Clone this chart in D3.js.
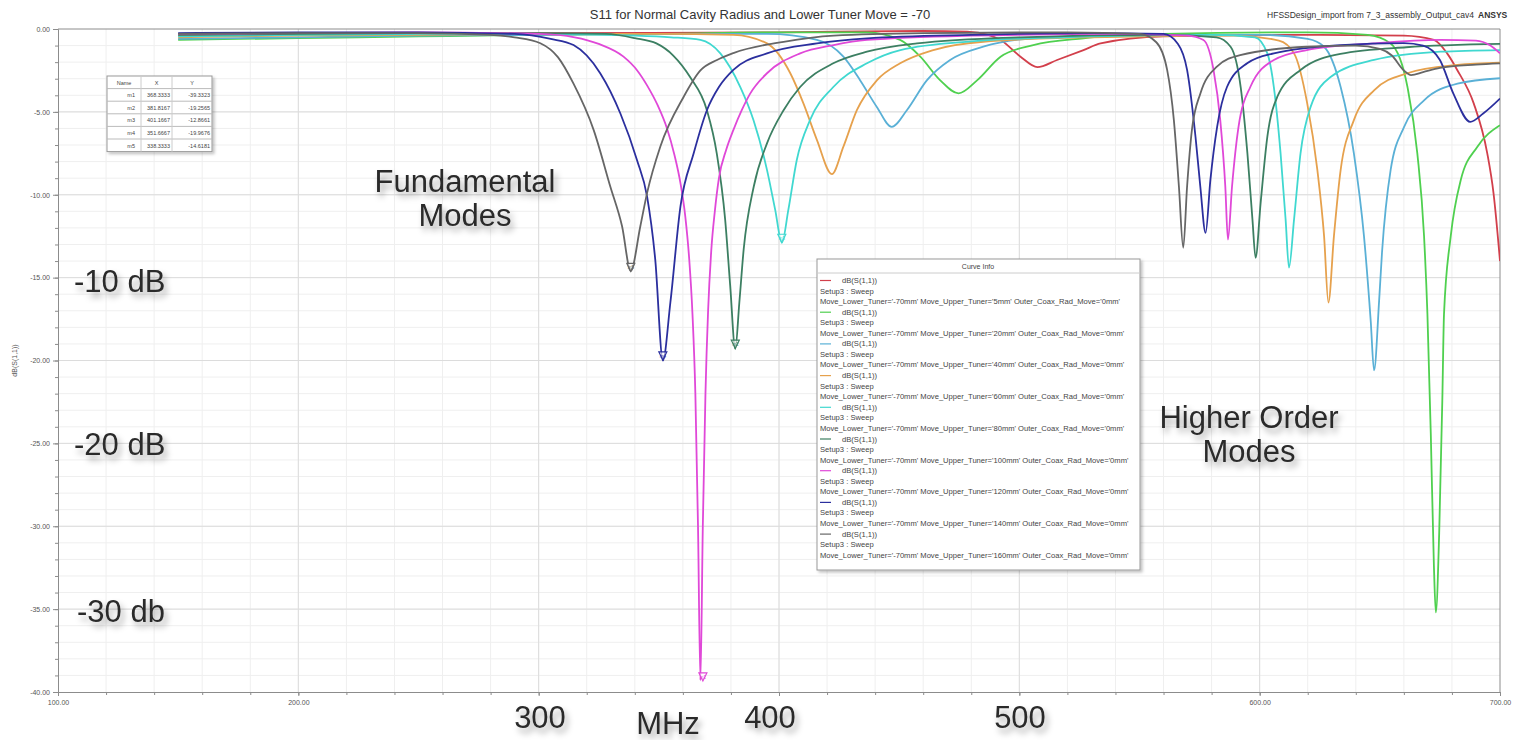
<!DOCTYPE html>
<html>
<head>
<meta charset="utf-8">
<script src="https://cdn.jsdelivr.net/npm/d3@7"></script>
<style>
body { margin:0; background:#fff; }
svg { display:block; font-family:"Liberation Sans", Arial, sans-serif; }
.axis .tick text { fill:#555; font-size:7px; }
.axis path, .axis line { stroke:#8c8c8c; }
.big { font-size:31px; fill:#2b2b2b; }
</style>
</head>
<body>
<div id="chart"></div>
<script>
var width = 1519,
    height = 740;

// upper tuner move of each sweep, legend order
var upperTuner = ["5mm", "20mm", "40mm", "60mm", "80mm", "100mm", "120mm", "140mm", "160mm"];

// S11 curves as [MHz, dB]
var s5mm = [[150,-0.4],[200,-0.35],[250,-0.3],[300,-0.25],[400,-0.2],[460,-0.12],[478.3,-0.16],[487,-0.35],[492.2,-0.66],[500.5,-1.67],[507.5,-2.3],[515.7,-1.87],[526.7,-1.27],[533.8,-0.87],[560,-0.45],[620,-0.35],[660,-0.4],[672.5,-0.66],[678,-1.47],[682.2,-2.47],[689.1,-4.5],[694.7,-7.5],[697.3,-9.9],[700,-14]];
var s20mm = [[150,-0.65],[200,-0.55],[250,-0.45],[300,-0.35],[350,-0.3],[400,-0.2],[436.6,-0.2],[450.4,-0.66],[458.8,-1.67],[467.1,-3.1],[474.7,-3.88],[482.4,-3.1],[492.2,-1.67],[505.8,-0.97],[526.7,-0.56],[560,-0.3],[620,-0.2],[645,-0.35],[654.5,-0.87],[661.5,-3.5],[665.6,-7.5],[668.4,-12.5],[669.8,-17.2],[671.2,-24.4],[672.5,-32.4],[673.3,-35.2],[674.7,-30.4],[676,-22.4],[676.7,-17.2],[679.5,-12.5],[683.7,-9.1],[690.6,-7.1],[700,-5.8]];
var s40mm = [[150,-0.6],[200,-0.5],[250,-0.4],[300,-0.35],[350,-0.3],[395,-0.3],[415.8,-0.66],[426.8,-1.67],[433.8,-3.1],[440.7,-4.7],[446.9,-5.9],[453.2,-4.9],[461.5,-3.1],[471.2,-1.87],[485,-1.07],[505.8,-0.56],[550,-0.35],[600,-0.35],[620,-0.6],[626.8,-1.07],[633.7,-3.5],[639.2,-7.5],[643.4,-12.5],[646.2,-17.6],[647.6,-20.6],[649.7,-16.4],[650.9,-13.5],[654.5,-8.5],[660.1,-5.9],[668.4,-4.3],[682.3,-3.3],[700,-2.97]];
var s60mm = [[150,-0.5],[200,-0.4],[250,-0.35],[300,-0.3],[350,-0.3],[381,-0.35],[395,-0.87],[404.7,-2.67],[410.2,-4.5],[415.8,-6.7],[422,-8.75],[426.8,-7.1],[432.4,-4.9],[440.7,-3.1],[450.4,-2.07],[464.2,-1.27],[485,-0.77],[530,-0.5],[590,-0.4],[608,-0.7],[614.3,-1.47],[619.8,-4.5],[624,-8.5],[626.8,-12.5],[628.6,-16.5],[630.9,-12.5],[633.7,-8.5],[639.2,-5.5],[647.6,-3.7],[661.4,-2.67],[682.2,-2.17],[700,-2.03]];
var s80mm = [[150,-0.45],[200,-0.35],[250,-0.3],[300,-0.3],[340,-0.4],[355,-0.5],[367.3,-0.66],[375.6,-1.47],[383.9,-3.5],[389.4,-5.5],[395,-8.5],[398.4,-10.9],[401.2,-12.9],[403.9,-10.9],[407.4,-7.9],[412.9,-5.5],[422.6,-3.5],[436.6,-2.07],[450.5,-1.27],[480,-0.75],[530,-0.45],[580,-0.35],[598,-0.5],[603.2,-1.47],[605.9,-3.5],[608.7,-7.5],[610.8,-11.5],[612.2,-14.4],[614.3,-11.5],[617,-7.5],[621.2,-4.7],[629.5,-2.9],[647.6,-1.87],[675.3,-1.37],[700,-1.27]];
var s100mm = [[150,-0.35],[200,-0.3],[250,-0.25],[300,-0.25],[328,-0.3],[340,-0.55],[349,-0.87],[356,-1.6],[363,-2.9],[370,-4.9],[374.1,-7.5],[377.6,-11.5],[379.7,-15.5],[381.8,-19.3],[383.5,-16.5],[385.3,-13.3],[389.5,-9.5],[395,-6.9],[401.9,-4.9],[408.8,-3.5],[422.6,-2.07],[436.6,-1.37],[457.4,-0.87],[500,-0.5],[560,-0.35],[582,-0.5],[587.9,-1.07],[592.1,-3.5],[594.9,-7.5],[597,-11.5],[598.3,-13.8],[600.4,-10.5],[603.2,-6.5],[607.3,-4.1],[617,-2.47],[633.6,-1.5],[661,-1.1],[700,-0.9]];
var s120mm = [[150,-0.3],[200,-0.25],[250,-0.2],[300,-0.3],[315,-0.5],[325,-0.9],[335.3,-1.67],[341,-2.5],[345.1,-3.4],[349.5,-4.6],[353.4,-6.0],[356.5,-7.6],[359,-9.3],[361,-11.3],[362.6,-13.8],[364,-17.2],[365.2,-22],[366.3,-30],[367.3,-39.3],[368.3,-30],[369.4,-22],[370.5,-17],[371.8,-13.4],[373.3,-11],[375,-9.0],[378,-7.3],[381,-6.1],[384.5,-4.9],[388,-3.9],[395,-2.67],[408.8,-1.47],[422.7,-0.97],[436.6,-0.66],[480,-0.4],[540,-0.3],[570,-0.4],[576.6,-0.66],[580.8,-2.47],[583.6,-5.5],[585.7,-9.5],[586.8,-12.7],[588.5,-9.5],[591.2,-5.9],[596.1,-3.5],[605.9,-1.87],[619.6,-1.27],[647.4,-0.87],[675.2,-0.66],[690,-0.7],[696,-1.0],[700,-1.47]];
var s140mm = [[150,-0.25],[200,-0.2],[250,-0.2],[290,-0.3],[305,-0.6],[314.5,-0.97],[325.6,-2.67],[334,-5.1],[340.9,-7.9],[345.1,-10.1],[348.5,-13.9],[351.7,-20.0],[354.8,-16.5],[359,-10.7],[364.5,-7.5],[370,-4.9],[375,-3.5],[381,-2.47],[395,-1.47],[415.8,-0.87],[436.6,-0.56],[480,-0.35],[530,-0.25],[560,-0.3],[566,-0.9],[569.8,-2.47],[573.3,-6.5],[575.3,-9.5],[577.5,-12.3],[579.5,-9.1],[582.3,-5.9],[586.4,-3.5],[594.8,-2.07],[605.9,-1.47],[633.6,-0.97],[660,-0.85],[668,-1.0],[675,-1.87],[680.6,-3.9],[687.6,-5.6],[693,-5.1],[700,-4.2]];
var s160mm = [[150,-0.3],[200,-0.25],[250,-0.25],[280,-0.35],[290,-0.5],[300.7,-0.86],[308,-1.7],[314.5,-3.3],[322.9,-6.1],[329.8,-9.5],[334.7,-11.9],[338.3,-14.6],[342.3,-11.9],[345.1,-9.9],[350.6,-7.1],[360.3,-4.1],[367.3,-2.5],[374.2,-1.87],[381,-1.45],[401.9,-0.77],[422.8,-0.4],[460,-0.25],[520,-0.2],[550,-0.3],[557,-0.8],[561.5,-2.47],[564.3,-5.5],[566.4,-9.5],[568.2,-13.2],[569.8,-9.5],[571.8,-6.1],[575.3,-3.9],[582.2,-2.27],[591.9,-1.57],[619.6,-1.07],[640,-1.0],[650,-1.2],[655,-1.6],[660,-2.5],[663,-2.78],[668,-2.6],[675,-2.35],[690,-2.15],[700,-2.07]];

var series = [s5mm, s20mm, s40mm, s60mm, s80mm, s100mm, s120mm, s140mm, s160mm];
var colors = ["#d23f4b", "#4fd04f", "#5ab0d6", "#e6a14d", "#40d8d0", "#3c7f62", "#e048d8", "#2b2f9e", "#666666"];

// axis ticks
var xTicks = [100, 200, 300, 400, 500, 600, 700];
var xTickLabels = ["100.00", "200.00", "", "", "", "600.00", "700.00"];
var yTicks = [0, -5, -10, -15, -20, -25, -30, -35, -40];

// marker table
var markerNames = ["m1", "m2", "m3", "m4", "m5"];
var markerX = [368.3333, 381.8167, 401.1667, 351.6667, 338.3333];
var markerY = [-39.3323, -19.2565, -12.8661, -19.9676, -14.6181];
var markerSeries = [6, 5, 4, 7, 8];

var svg = d3.select("#chart")
    .append("svg")
    .attr("width", width)
    .attr("height", height);

var defs = svg.append("defs");
defs.append("filter")
    .attr("id", "shadow")
    .attr("x", "-20%").attr("y", "-30%")
    .attr("width", "140%").attr("height", "180%")
    .append("feDropShadow")
    .attr("dx", 3).attr("dy", 5)
    .attr("stdDeviation", 3)
    .attr("flood-color", "#000")
    .attr("flood-opacity", 0.35);
defs.append("filter")
    .attr("id", "boxshadow")
    .append("feDropShadow")
    .attr("dx", 2).attr("dy", 2)
    .attr("stdDeviation", 1.5)
    .attr("flood-color", "#000")
    .attr("flood-opacity", 0.25);
defs.append("clipPath")
    .attr("id", "plotclip")
    .append("rect")
    .attr("x", 58).attr("y", 20)
    .attr("width", 1442).attr("height", 672);

var xScale = d3.scaleLinear()
    .domain([100, 700])
    .range([58, 1500]);

var yScale = d3.scaleLinear()
    .domain([0, -40])
    .range([29, 692]);

// grid, minor first
var grid = svg.append("g");
grid.selectAll(".vminor")
    .data(d3.range(120, 700, 20))
    .enter().append("line")
    .attr("x1", function(d) { return xScale(d); })
    .attr("x2", function(d) { return xScale(d); })
    .attr("y1", yScale(0)).attr("y2", yScale(-40))
    .attr("stroke", "#efefef");
grid.selectAll(".hminor")
    .data(d3.range(-1, -40, -1))
    .enter().append("line")
    .attr("x1", xScale(100)).attr("x2", xScale(700))
    .attr("y1", function(d) { return yScale(d); })
    .attr("y2", function(d) { return yScale(d); })
    .attr("stroke", "#efefef");
grid.selectAll(".vmajor")
    .data(xTicks.slice(1, -1))
    .enter().append("line")
    .attr("x1", function(d) { return xScale(d); })
    .attr("x2", function(d) { return xScale(d); })
    .attr("y1", yScale(0)).attr("y2", yScale(-40))
    .attr("stroke", "#dcdcdc");
grid.selectAll(".hmajor")
    .data(yTicks.slice(1, -1))
    .enter().append("line")
    .attr("x1", xScale(100)).attr("x2", xScale(700))
    .attr("y1", function(d) { return yScale(d); })
    .attr("y2", function(d) { return yScale(d); })
    .attr("stroke", "#dcdcdc");

// axes
var yAxis = d3.axisLeft(yScale)
    .tickValues(yTicks)
    .tickFormat(function(d) { return d.toFixed(2); })
    .tickSize(5)
    .tickPadding(3);
svg.append("g")
    .attr("class", "axis")
    .attr("transform", "translate(" + xScale(100) + ",0)")
    .call(yAxis);
svg.append("g")
    .attr("class", "axis")
    .attr("transform", "translate(" + xScale(100) + ",0)")
    .call(d3.axisLeft(yScale).tickValues(d3.range(-1, -40, -1)).tickSize(3).tickFormat(""))
    .select(".domain").remove();

var xAxis = d3.axisBottom(xScale)
    .tickValues(xTicks)
    .tickFormat(function(d, i) { return xTickLabels[i]; })
    .tickSize(4)
    .tickSizeOuter(0)
    .tickPadding(4);
svg.append("g")
    .attr("class", "axis")
    .attr("transform", "translate(0," + yScale(-40) + ")")
    .call(xAxis);
svg.append("g")
    .attr("class", "axis")
    .attr("transform", "translate(0," + yScale(-40) + ")")
    .call(d3.axisBottom(xScale).tickValues(d3.range(120, 700, 20)).tickSize(3).tickFormat(""))
    .select(".domain").remove();

// top zero line and right frame
svg.append("line")
    .attr("x1", xScale(100)).attr("x2", xScale(700))
    .attr("y1", yScale(0)).attr("y2", yScale(0))
    .attr("stroke", "#8c8c8c");
svg.append("line")
    .attr("x1", xScale(700)).attr("x2", xScale(700))
    .attr("y1", yScale(0)).attr("y2", yScale(-40))
    .attr("stroke", "#8c8c8c");

svg.append("text")
    .attr("transform", "translate(17," + yScale(-20) + ") rotate(-90)")
    .attr("text-anchor", "middle")
    .attr("font-size", 7)
    .attr("fill", "#555")
    .text("dB(S(1,1))");

// titles
svg.append("text")
    .attr("x", 760).attr("y", 19)
    .attr("text-anchor", "middle")
    .attr("font-size", 13)
    .attr("fill", "#333")
    .text("S11 for Normal Cavity Radius and Lower Tuner Move = -70");
svg.append("text")
    .attr("x", 1474).attr("y", 18)
    .attr("text-anchor", "end")
    .attr("font-size", 8.5)
    .attr("fill", "#333")
    .text("HFSSDesign_import from 7_3_assembly_Output_cav4");
svg.append("text")
    .attr("x", 1478).attr("y", 18)
    .attr("font-size", 8.5)
    .attr("font-weight", "bold")
    .attr("fill", "#333")
    .text("ANSYS");

// curves
var line = d3.line()
    .x(function(d) { return xScale(d[0]); })
    .y(function(d) { return yScale(d[1]); })
    .curve(d3.curveMonotoneX);

svg.append("g")
    .attr("clip-path", "url(#plotclip)")
    .selectAll("path")
    .data(series)
    .enter()
    .append("path")
    .attr("d", line)
    .attr("fill", "none")
    .attr("stroke", function(d, i) { return colors[i]; })
    .attr("stroke-width", 1.8);

// markers on the dips
var marks = svg.append("g")
    .selectAll("g")
    .data(markerNames)
    .enter()
    .append("g")
    .attr("transform", function(d, i) {
        return "translate(" + xScale(markerX[i]) + "," + yScale(markerY[i]) + ")";
    });
marks.append("path")
    .attr("d", "M-4,-8L4,-8L0,0Z")
    .attr("fill", "#fff")
    .attr("fill-opacity", 0.6)
    .attr("stroke", function(d, i) { return colors[markerSeries[i]]; })
    .attr("stroke-width", 1.2);
marks.append("text")
    .attr("x", 0).attr("y", -2)
    .attr("text-anchor", "middle")
    .attr("font-size", 4.5)
    .attr("fill", function(d, i) { return colors[markerSeries[i]]; })
    .text(function(d) { return d; });

// marker table
var table = svg.append("g").attr("transform", "translate(107,76)");
var colX = [0, 34, 65, 105];
var rowH = 12.6;
table.append("rect")
    .attr("width", colX[3]).attr("height", rowH * 6)
    .attr("fill", "#fff")
    .attr("stroke", "#999")
    .attr("filter", "url(#boxshadow)");
table.selectAll(".row")
    .data(d3.range(1, 6))
    .enter().append("line")
    .attr("x1", 0).attr("x2", colX[3])
    .attr("y1", function(d) { return d * rowH; })
    .attr("y2", function(d) { return d * rowH; })
    .attr("stroke", "#bbb");
table.selectAll(".col")
    .data([colX[1], colX[2]])
    .enter().append("line")
    .attr("x1", function(d) { return d; }).attr("x2", function(d) { return d; })
    .attr("y1", 0).attr("y2", rowH * 6)
    .attr("stroke", "#ccc");
var head = ["Name", "X", "Y"];
table.selectAll(".head")
    .data(head)
    .enter().append("text")
    .attr("x", function(d, i) { return (colX[i] + colX[i + 1]) / 2; })
    .attr("y", rowH * 0.68)
    .attr("text-anchor", "middle")
    .attr("font-size", 5.5)
    .attr("fill", "#444")
    .text(function(d) { return d; });
var rows = table.selectAll(".mrow")
    .data(markerNames)
    .enter().append("g")
    .attr("transform", function(d, i) { return "translate(0," + ((i + 1) * rowH + rowH * 0.68) + ")"; });
rows.append("text")
    .attr("x", colX[1] - 6).attr("text-anchor", "end")
    .attr("font-size", 5.5).attr("fill", "#444")
    .text(function(d) { return d; });
rows.append("text")
    .attr("x", colX[2] - 2).attr("text-anchor", "end")
    .attr("font-size", 5.5).attr("fill", "#444")
    .text(function(d, i) { return markerX[i].toFixed(4); });
rows.append("text")
    .attr("x", colX[3] - 2).attr("text-anchor", "end")
    .attr("font-size", 5.5).attr("fill", "#444")
    .text(function(d, i) { return markerY[i].toFixed(4); });

// curve info legend
var legend = svg.append("g").attr("transform", "translate(817,259)");
legend.append("rect")
    .attr("width", 323).attr("height", 311)
    .attr("fill", "#fff")
    .attr("stroke", "#999")
    .attr("filter", "url(#boxshadow)");
legend.append("line")
    .attr("x1", 0).attr("x2", 323)
    .attr("y1", 14).attr("y2", 14)
    .attr("stroke", "#ccc");
legend.append("text")
    .attr("x", 161).attr("y", 10)
    .attr("text-anchor", "middle")
    .attr("font-size", 7).attr("fill", "#444")
    .text("Curve Info");
var entries = legend.selectAll(".entry")
    .data(upperTuner)
    .enter().append("g")
    .attr("transform", function(d, i) { return "translate(3," + (24 + i * 31.7) + ")"; });
entries.append("line")
    .attr("x1", 0).attr("x2", 11)
    .attr("y1", -2.5).attr("y2", -2.5)
    .attr("stroke", function(d, i) { return colors[i]; })
    .attr("stroke-width", 1.2);
entries.append("text")
    .attr("x", 22).attr("font-size", 7.6).attr("fill", "#444")
    .text("dB(S(1,1))");
entries.append("text")
    .attr("x", 0).attr("y", 10.5).attr("font-size", 7.6).attr("fill", "#444")
    .text("Setup3 : Sweep");
entries.append("text")
    .attr("x", 0).attr("y", 21).attr("font-size", 7.6).attr("fill", "#444")
    .text(function(d) { return "Move_Lower_Tuner='-70mm' Move_Upper_Tuner='" + d + "' Outer_Coax_Rad_Move='0mm'"; });

// overlay annotations
var notes = svg.append("g").attr("filter", "url(#shadow)");
function note(txt, x, y, anchor) {
    notes.append("text")
        .attr("class", "big")
        .attr("x", x).attr("y", y)
        .attr("text-anchor", anchor || "middle")
        .text(txt);
}
note("Fundamental", 465, 192);
note("Modes", 465, 226);
note("-10 dB", 74, 292, "start");
note("-20 dB", 74, 455, "start");
note("-30 db", 77, 622, "start");
note("Higher Order", 1249, 428);
note("Modes", 1249, 462);
note("300", 540, 728);
note("MHz", 668, 734);
note("400", 770, 728);
note("500", 1020, 728);
</script>
</body>
</html>
